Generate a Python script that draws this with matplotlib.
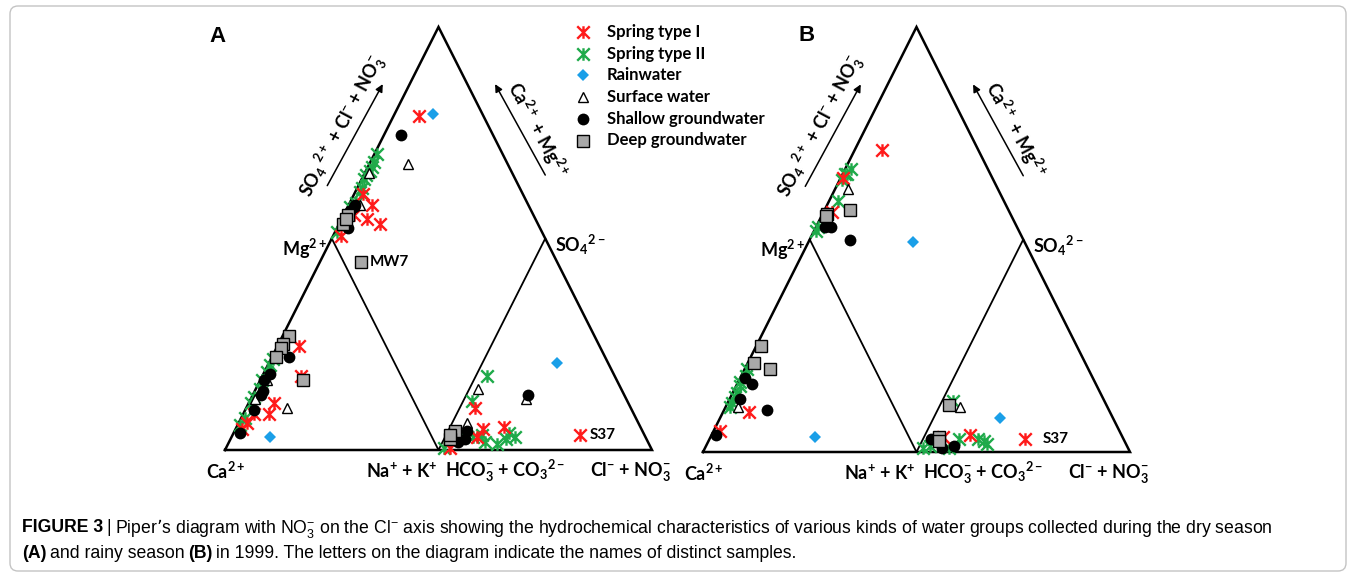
import numpy as np
import matplotlib.pyplot as plt
from matplotlib.path import Path
from matplotlib.patches import FancyBboxPatch

plt.rcParams['font.family'] = ['Lato', 'DejaVu Sans']
plt.rcParams['mathtext.default'] = 'regular'

W, H = 1356, 575

groups = ["Spring type I", "Spring type II", "Rainwater", "Surface water",
          "Shallow groundwater", "Deep groundwater"]

# cation triangle: (Mg %, Na+K %)
cation_a = {
    "Spring type I": [(49, 10), (35, 18), (22, 12), (17, 12), (13, 4), (10, 3), (17, 5)],
    "Spring type II": [(43, 1), (40, 1), (37, 1), (33, 1), (29, 2), (25, 1), (22, 1), (15, 2), (12, 1)],
    "Rainwater": [(6, 18)],
    "Surface water": [(33, 3), (24, 2), (20, 19)],
    "Shallow groundwater": [(44, 8), (36, 3), (33, 2), (28, 4), (26, 4), (19, 4), (8, 3)],
    "Deep groundwater": [(54, 3), (50, 2), (48, 2), (44, 2), (33, 20)],
}
cation_b = {
    "Spring type I": [(19, 12), (10, 3)],
    "Spring type II": [(39, 1), (36, 2), (31, 2), (28, 2), (23, 2), (21, 2), (33, 1), (26, 2)],
    "Rainwater": [(7, 49)],
    "Surface water": [(21, 6)],
    "Shallow groundwater": [(35, 2), (32, 7), (25, 5), (20, 20), (8, 2)],
    "Deep groundwater": [(50, 2), (42, 3), (39, 12)],
}

# anion triangle: (SO4 %, Cl+NO3 %)
anion_a = {
    "Spring type I": [(20, 7), (7, 63), (10, 16), (11, 25), (6, 15), (1, 5)],
    "Spring type II": [(35, 5), (23, 4), (7, 17), (4, 20), (3, 26), (8, 29), (6, 33), (5, 29),
                       (6, 13), (1, 2), (6, 6)],
    "Rainwater": [(41, 35)],
    "Surface water": [(29, 4), (24, 29), (13, 7)],
    "Shallow groundwater": [(26, 29), (9, 9), (5, 10), (4, 7)],
    "Deep groundwater": [(9, 3), (5, 3), (7, 2)],
}
anion_b = {
    "Spring type I": [(8, 21), (6, 48), (7, 9)],
    "Spring type II": [(24, 5), (6, 26), (4, 31), (2, 2), (3, 5), (6, 17), (2, 14), (5, 29)],
    "Rainwater": [(16, 31)],
    "Surface water": [(21, 10)],
    "Shallow groundwater": [(6, 4), (2, 11), (3, 16)],
    "Deep groundwater": [(22, 4), (7, 7), (5, 8)],
}

# diamond: (SO4+Cl+NO3 %, Ca+Mg %)
diamond_a = {
    "Spring type I": [(70, 88), (27, 89), (21, 88), (26, 81), (25, 96), (5, 96), (16, 95)],
    "Spring type II": [(41, 99), (38, 98), (36, 98), (34, 98), (29, 99), (26, 98), (24, 98),
                       (20, 97), (16, 99), (4, 99), (31, 99)],
    "Rainwater": [(77, 82)],
    "Surface water": [(53, 82), (33, 98), (21, 95)],
    "Shallow groundwater": [(57, 92), (18, 97), (19, 97), (15, 98), (10, 95)],
    "Deep groundwater": [(13, 98), (9, 98), (11, 98), (8, 81)],
}
diamond_b = {
    "Spring type I": [(55, 87), (30, 99), (17, 96)],
    "Spring type II": [(36, 97), (32, 99), (29, 99), (22, 96), (7, 99), (5, 99), (33, 98)],
    "Rainwater": [(48, 51)],
    "Surface water": [(30, 94)],
    "Shallow groundwater": [(10, 96), (13, 93), (19, 81)],
    "Deep groundwater": [(26, 88), (14, 98), (13, 98)],
}

# named samples
mw7_a = (8, 81)     # diamond, panel A
s37_a = (7, 63)     # anion, panel A
s37_b = (6, 48)     # anion, panel B

# Excel-like star: X plus vertical stroke
star = Path([(-1, -1), (1, 1), (-1, 1), (1, -1), (0, -1), (0, 1)],
            [Path.MOVETO, Path.LINETO, Path.MOVETO, Path.LINETO, Path.MOVETO, Path.LINETO])

styles = {
    "Spring type I": dict(marker=star, ms=9, mew=1.7, mec='#ff1a1a', mfc='none'),
    "Spring type II": dict(marker=star, ms=9, mew=1.7, mec='#1faa4a', mfc='none'),
    "Rainwater": dict(marker='D', ms=6.5, mew=0, mfc='#1a9fe8'),
    "Surface water": dict(marker='^', ms=7.5, mew=1.0, mec='black', mfc='white'),
    "Shallow groundwater": dict(marker='o', ms=8.5, mew=0, mfc='black'),
    "Deep groundwater": dict(marker='s', ms=8, mew=1.0, mec='black', mfc='#a8a8a8'),
}
draw_order = ["Spring type II", "Spring type I", "Surface water", "Shallow groundwater",
              "Deep groundwater", "Rainwater"]


def cation_xy(p):
    mg, nak = np.array(p, dtype=float).T / 100
    return nak + 0.5 * mg, mg


def anion_xy(p):
    so4, cl = np.array(p, dtype=float).T / 100
    return 1 + cl + 0.5 * so4, so4


def diamond_xy(p):
    sc, cm = np.array(p, dtype=float).T / 100
    return 1 + 0.5 * (sc - cm), sc + cm


lab = dict(fontsize=13, fontweight='bold', va='center')


def draw_panel(ax, cat, an, dia, letter, letter_pos):
    ax.set_xlim(0, 2)
    ax.set_ylim(0, 2)
    ax.axis('off')
    ax.plot([0, 2, 1, 0], [0, 0, 2, 0], color='black', lw=1.8, solid_joinstyle='miter',
            clip_on=False)
    ax.plot([0.5, 1, 1.5], [1, 0, 1], color='black', lw=1.3, solid_joinstyle='miter',
            clip_on=False)

    for g in draw_order:
        for data, fn in ((cat, cation_xy), (an, anion_xy), (dia, diamond_xy)):
            x, y = fn(data[g])
            ax.plot(x, y, ls='none', clip_on=False, zorder=3, **styles[g])

    ax.text(0.005, -0.1, r"Ca$^{2+}$", ha='center', **lab)
    ax.text(0.995, -0.1, r"Na$^{+}$ + K$^{+}$", ha='right', **lab)
    ax.text(1.03, -0.1, r"HCO$_3^{-}$ + CO$_3$$^{2-}$", ha='left', **lab)
    ax.text(1.9, -0.1, r"Cl$^{-}$ + NO$_3^{-}$", ha='center', **lab)
    ax.text(0.48, 0.95, r"Mg$^{2+}$", ha='right', **lab)
    ax.text(1.545, 0.97, r"SO$_4$$^{2-}$", ha='left', **lab)

    arrow = dict(arrowstyle='-|>', lw=1.1, color='black', mutation_scale=11,
                 shrinkA=0, shrinkB=0)
    ax.annotate('', xy=(0.739, 1.73), xytext=(0.479, 1.25), arrowprops=arrow)
    ax.annotate('', xy=(1.265, 1.73), xytext=(1.50, 1.30), arrowprops=arrow)
    ax.text(0.55, 1.53, r"SO$_4$ $^{2+}$ + Cl$^{-}$ + NO$_3^{-}$", rotation=62,
            rotation_mode='anchor', ha='center', **lab)
    ax.text(1.465, 1.515, r"Ca$^{2+}$ + Mg$^{2+}$", rotation=-62,
            rotation_mode='anchor', ha='center', **lab)

    ax.text(letter_pos[0], letter_pos[1], letter, fontsize=16, fontweight='bold',
            family='Liberation Sans', ha='center', va='center')


fig = plt.figure(figsize=(W / 100, H / 100), dpi=100)

# pixel-space overlay for frame, legend and caption
over = fig.add_axes([0, 0, 1, 1])
over.set_xlim(0, W)
over.set_ylim(H, 0)
over.axis('off')
over.add_patch(FancyBboxPatch((10, 6), W - 20, H - 10,
                              boxstyle='round,pad=0,rounding_size=8',
                              ec='#c4c4c4', fc='none', lw=1))

ax_a = fig.add_axes([225 / W, (H - 450) / H, 427 / W, 423 / H])
ax_b = fig.add_axes([703 / W, (H - 452) / H, 427 / W, 425 / H])
draw_panel(ax_a, cation_a, anion_a, diamond_a, "A", (-0.037, 1.957))
draw_panel(ax_b, cation_b, anion_b, diamond_b, "B", (0.487, 1.958))

mx, my = diamond_xy([mw7_a])
ax_a.text(mx[0] + 0.045, my[0], "MW7", fontsize=11, fontweight='bold', va='center')
sx, sy = anion_xy([s37_a])
ax_a.text(sx[0] + 0.045, sy[0], "S37", fontsize=11, fontweight='bold', va='center')
sx, sy = anion_xy([s37_b])
ax_b.text(sx[0] + 0.08, sy[0], "S37", fontsize=11, fontweight='bold', va='center')

# legend
for i, g in enumerate(groups):
    y = 32 + i * 21.7
    over.plot([583], [y], ls='none', **styles[g])
    over.text(607, y, g, fontsize=12, fontweight='bold', va='center')

# caption
cap_font = ['Liberation Sans Narrow', 'Liberation Sans', 'DejaVu Sans']
cap_size = 12.7
renderer = fig.canvas.get_renderer()
gap = cap_size * 0.27


def put_runs(x, y, runs):
    for s, w in runs:
        t = over.text(x, y, s, fontsize=cap_size, fontweight=w, family=cap_font, va='center')
        x += t.get_window_extent(renderer).width + gap


put_runs(22, 528, [("FIGURE 3", 'bold'), ("|", 'normal'),
                   (r"Piper’s diagram with NO$_3^{-}$ on the Cl$^{-}$ axis showing the hydrochemical "
                    "characteristics of various kinds of water groups collected during the dry season",
                    'normal')])
put_runs(22, 553, [("(A)", 'bold'), ("and rainy season", 'normal'), ("(B)", 'bold'),
                   ("in 1999. The letters on the diagram indicate the names of distinct samples.",
                    'normal')])

fig.savefig("out.png", dpi=100)
